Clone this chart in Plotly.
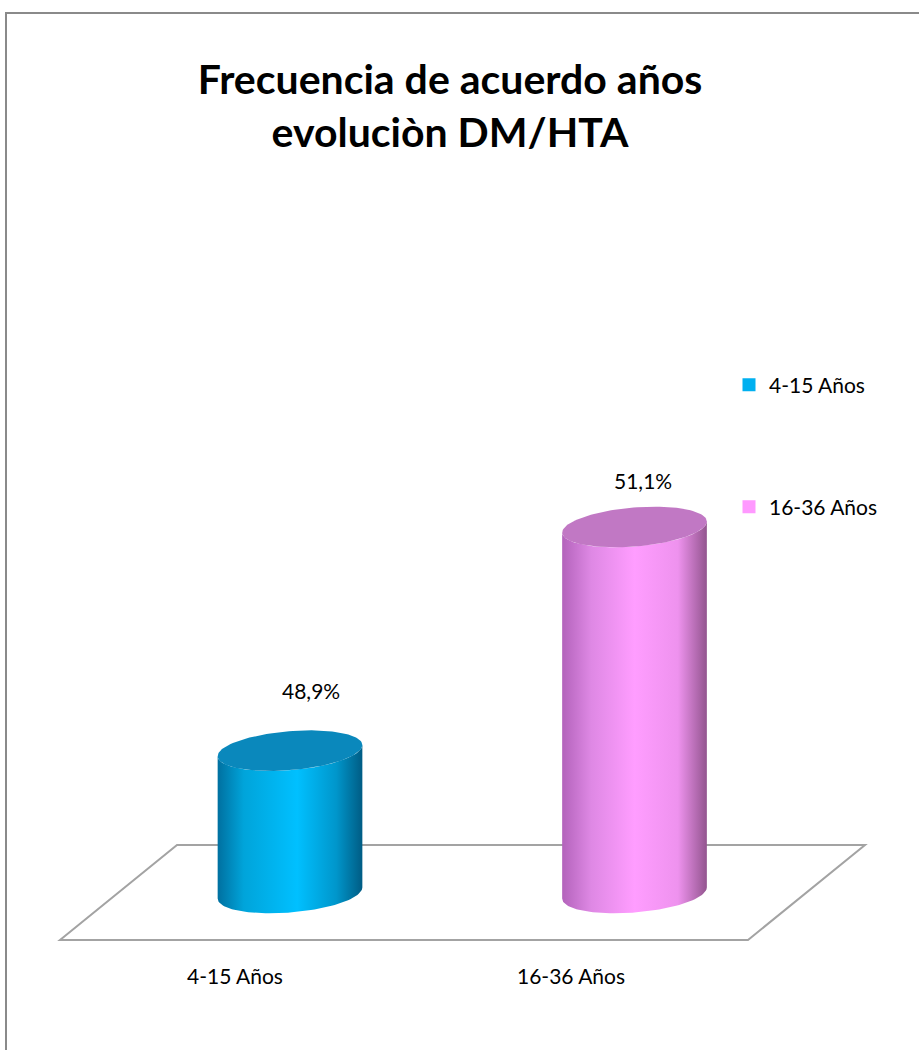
import numpy as np
import plotly.graph_objects as go

# ---- data -------------------------------------------------------------
categories = ["4-15 Años", "16-36 Años"]
values = [48.9, 51.1]
value_labels = ["48,9%", "51,1%"]
axis_floor = 47.5  # value axis minimum (cylinders rise from here)
title_text = "Frecuencia de acuerdo años<br>evoluciòn DM/HTA"

# ---- style ------------------------------------------------------------
W, H = 919, 1050
FONT = "Lato, 'Open Sans', sans-serif"
body_scales = [
    [[0, "#0070a0"], [0.18, "#00a4da"], [0.55, "#00c0ff"], [0.82, "#0096cb"], [1, "#005c84"]],
    [[0, "#b363bb"], [0.2, "#de88e4"], [0.5, "#ff9dff"], [0.8, "#ee92ee"], [1, "#93558f"]],
]
top_colors = ["#0a88bc", "#c178c4"]
legend_colors = ["#00b0f0", "#ff99ff"]
label_shift = [(21, 60), (8, 46)]   # (x, y) pixel offsets of the value labels
cat_shift = [-55, -64]              # x pixel offsets of the category labels

# cylinder geometry in axis units
half_w = 0.21      # horizontal radius
half_h = 0.192     # vertical radius of the elliptical caps
tilt = 0.055       # slight slant of the caps

fig = go.Figure()

t_front = np.linspace(np.pi, 2 * np.pi, 60)
t_full = np.linspace(0, 2 * np.pi, 120)


def ellipse(cx, cy, t):
    return cx + half_w * np.cos(t), cy + half_h * np.sin(t) + tilt * np.cos(t)


for i, (cat, v) in enumerate(zip(categories, values)):
    cx = i
    bx, by = ellipse(cx, axis_floor, t_front)           # front arc of base
    tx, ty = ellipse(cx, v, t_front[::-1])              # front arc of top, reversed
    xs = np.concatenate([bx, tx, bx[:1]])
    ys = np.concatenate([by, ty, by[:1]])
    fig.add_trace(go.Scatter(
        x=xs, y=ys, mode="lines", fill="toself", line=dict(width=0),
        fillgradient=dict(type="horizontal", colorscale=body_scales[i]),
        hoverinfo="skip", showlegend=False,
    ))
    ex, ey = ellipse(cx, v, t_full)
    fig.add_trace(go.Scatter(
        x=ex, y=ey, mode="lines", fill="toself", line=dict(width=0),
        fillcolor=top_colors[i], hoverinfo="skip", showlegend=False,
    ))
    # value label above the cylinder
    fig.add_annotation(
        x=cx, y=v, text=value_labels[i], showarrow=False,
        xshift=label_shift[i][0], yshift=label_shift[i][1],
        font=dict(family=FONT, size=21, color="#000000"),
    )
    # category label below the floor
    fig.add_annotation(
        x=cx, y=axis_floor, text=cat, showarrow=False,
        xshift=cat_shift[i], yshift=-82,
        font=dict(family=FONT, size=21, color="#000000"),
    )

# legend entries (one legend box per series)
legend_names = ["legend", "legend2"]
for i, cat in enumerate(categories):
    fig.add_trace(go.Scatter(
        x=[None], y=[None], mode="markers", name=cat,
        marker=dict(symbol="square", size=13, color=legend_colors[i]),
        legend=legend_names[i],
    ))


def px(x):
    return x / W


def py(y):
    return 1 - y / H


floor = [(60, 940), (177, 845), (865, 845), (748, 940)]
floor_path = "M " + " L ".join(f"{px(a):.5f},{py(b):.5f}" for a, b in floor) + " Z"

fig.update_layout(
    width=W, height=H,
    margin=dict(l=0, r=0, t=0, b=0),
    paper_bgcolor="white", plot_bgcolor="white",
    xaxis=dict(range=[-290 / 344.5, (W - 290) / 344.5], visible=False, fixedrange=True),
    yaxis=dict(range=[axis_floor - (H - 893) / 101.67, axis_floor + 893 / 101.67],
               visible=False, fixedrange=True),
    title=dict(text=title_text, x=450 / W, xanchor="center", y=1 - 94 / H, yanchor="top",
               font=dict(family=FONT, size=41, color="#000000", weight="bold")),
    legend=dict(x=px(729), y=py(385), xanchor="left", yanchor="middle",
                font=dict(family=FONT, size=21, color="#000000"), bgcolor="rgba(0,0,0,0)"),
    legend2=dict(x=px(729), y=py(507), xanchor="left", yanchor="middle",
                 font=dict(family=FONT, size=21, color="#000000"), bgcolor="rgba(0,0,0,0)"),
    shapes=[
        dict(type="path", xref="paper", yref="paper", path=floor_path,
             line=dict(color="#a3a3a3", width=2), fillcolor="white", layer="below"),
        dict(type="rect", xref="paper", yref="paper", x0=px(6), y0=-0.1, x1=1.1, y1=py(13),
             line=dict(color="#8a8a8a", width=2), layer="above"),
    ],
)

fig.write_html("out.html")
